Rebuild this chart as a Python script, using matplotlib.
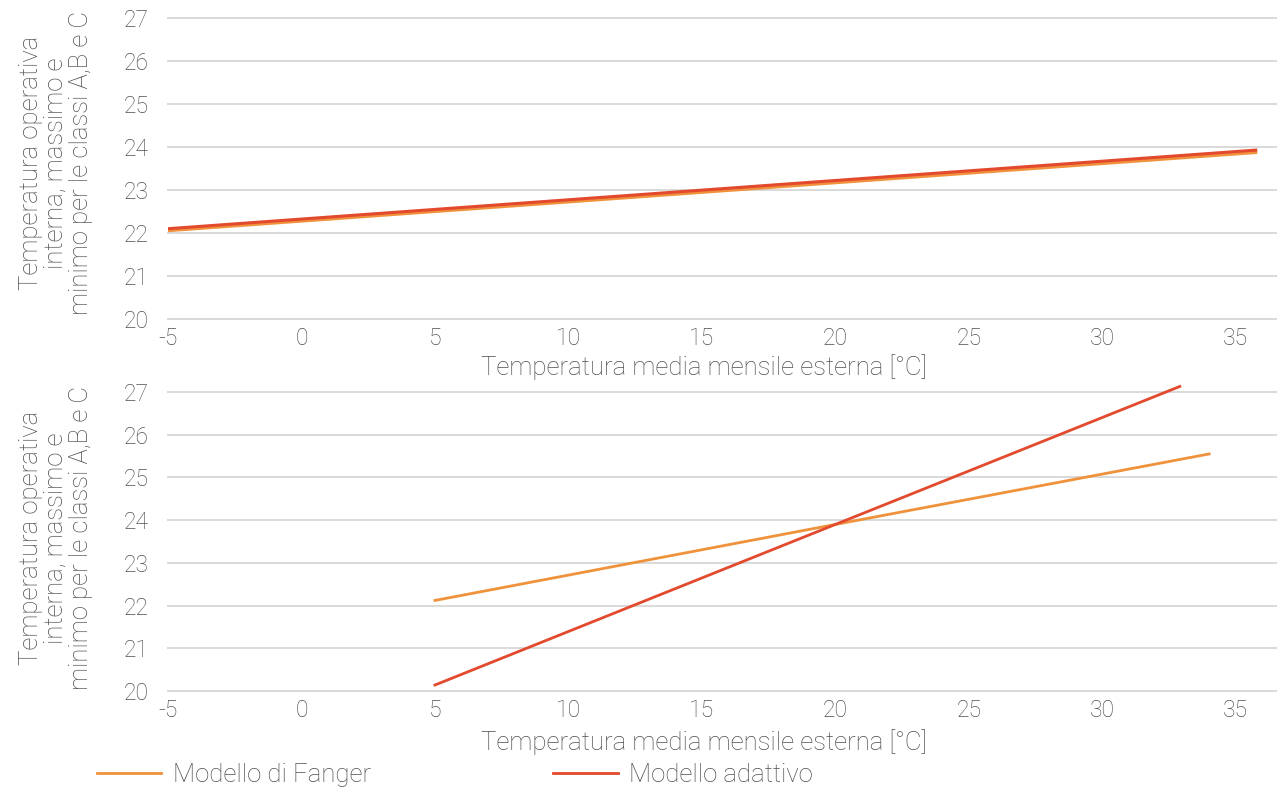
import matplotlib
matplotlib.use("Agg")
import matplotlib.pyplot as plt
from matplotlib.lines import Line2D

# --- data -------------------------------------------------------------
x_ticks = [-5, 0, 5, 10, 15, 20, 25, 30, 35]
y_ticks = [20, 21, 22, 23, 24, 25, 26, 27]

# upper panel
top_fanger_x = [-5, 35.8]
top_fanger_y = [22.06, 23.88]
top_adapt_x = [-5, 35.8]
top_adapt_y = [22.10, 23.93]

# lower panel
fanger_x = [5, 20, 34]
fanger_y = [22.12, 23.9, 25.55]
adapt_x = [5, 20, 32.9]
adapt_y = [20.14, 23.9, 27.13]

labels = ["Modello di Fanger", "Modello adattivo"]
ylabel = "Temperatura operativa\ninterna, massimo e\nminimo per le classi A,B e C"
xlabel = "Temperatura media mensile esterna [°C]"

# --- style ------------------------------------------------------------
ORANGE = "#F0923B"
RED = "#E2492D"
GRID = "#D9D9D9"
TXT = "#4F4F4F"
plt.rcParams["font.family"] = ["Roboto", "DejaVu Sans"]
plt.rcParams["font.weight"] = "light"
plt.rcParams["axes.unicode_minus"] = False
FS = 18.5
FS_TICK = 16.5

W, H = 1277, 788
fig = plt.figure(figsize=(W / 100, H / 100), dpi=100)

def px_rect(left, top, right, bottom):
    return [left / W, 1 - bottom / H, (right - left) / W, (bottom - top) / H]

ax_top = fig.add_axes(px_rect(168, 18, 1277, 319))
ax_bot = fig.add_axes(px_rect(168, 392, 1277, 691))

for ax in (ax_top, ax_bot):
    ax.set_xlim(-5, 36.54)
    ax.set_ylim(20, 27)
    ax.set_xticks(x_ticks)
    ax.set_yticks(y_ticks)
    for s in ax.spines.values():
        s.set_visible(False)
    ax.grid(axis="y", color=GRID, lw=1.4)
    ax.grid(axis="x", visible=False)
    for gl in ax.get_ygridlines():
        gl.set_clip_on(False)
    ax.tick_params(length=0, labelsize=FS_TICK, colors=TXT)
    ax.tick_params(axis="y", pad=14)
    ax.tick_params(axis="x", pad=6)
    ax.set_axisbelow(True)

ax_top.plot(top_fanger_x, top_fanger_y, color=ORANGE, lw=2.6, solid_capstyle="butt")
ax_top.plot(top_adapt_x, top_adapt_y, color=RED, lw=2.2, solid_capstyle="butt")

ax_bot.plot(fanger_x, fanger_y, color=ORANGE, lw=2.0, clip_on=False)
ax_bot.plot(adapt_x, adapt_y, color=RED, lw=2.0, clip_on=False)

# axis titles
for yc, xc in ((163, 56), (538, 56)):
    fig.text(xc / W, 1 - yc / H, ylabel, rotation=90, ha="center", va="center",
             fontsize=FS, color=TXT, linespacing=1.05)
for yc in (367, 742):
    fig.text(704 / W, 1 - yc / H, xlabel, ha="center", va="center",
             fontsize=FS, color=TXT)

handles = [Line2D([], [], color=ORANGE, lw=2.0), Line2D([], [], color=RED, lw=2.0)]
fig.legend(handles, labels, loc="center left", bbox_to_anchor=(97 / W, 1 - 775 / H),
           ncol=2, frameon=False, fontsize=FS, labelcolor=TXT,
           handlelength=2.5, handletextpad=0.45, columnspacing=7.1,
           borderpad=0, borderaxespad=0)

fig.savefig("out.png", dpi=100, facecolor="white")
